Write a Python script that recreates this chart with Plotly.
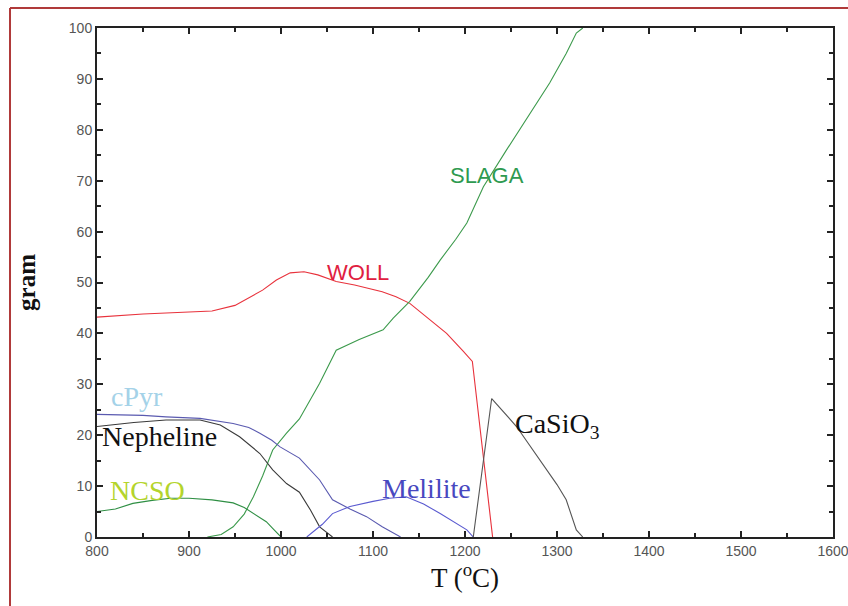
import plotly.graph_objects as go

# ---- data ----
woll_T = [800, 850, 900, 925, 950, 965, 980, 995, 1010, 1025, 1040, 1060, 1080, 1110, 1125, 1140, 1160, 1180, 1198, 1208, 1230]
woll_g = [43.2, 43.8, 44.2, 44.4, 45.5, 47.0, 48.5, 50.5, 51.9, 52.1, 51.5, 50.2, 49.5, 48.2, 47.2, 45.9, 43.0, 40.0, 36.5, 34.5, 0.0]

slaga_T = [920, 935, 948, 960, 970, 980, 991, 1006, 1020, 1042, 1060, 1085, 1111, 1122, 1140, 1160, 1173, 1190, 1202, 1220, 1245, 1270, 1292, 1310, 1321, 1328]
slaga_g = [0.0, 0.5, 2.0, 4.5, 7.9, 12.0, 17.1, 20.4, 23.2, 30.2, 36.7, 38.8, 40.7, 43.0, 46.3, 51.0, 54.4, 58.5, 61.7, 68.8, 76.0, 83.0, 89.2, 95.0, 99.0, 100.0]

cpyr_T = [800, 850, 875, 912, 948, 965, 977, 990, 999, 1020, 1042, 1056, 1075, 1093, 1110, 1130]
cpyr_g = [24.1, 23.9, 23.6, 23.3, 22.3, 21.5, 20.4, 19.0, 17.7, 15.5, 11.2, 7.3, 5.5, 4.0, 2.0, 0.0]

neph_T = [800, 840, 875, 912, 934, 955, 977, 991, 1006, 1020, 1032, 1042, 1056]
neph_g = [21.7, 22.5, 23.0, 23.0, 22.0, 19.7, 16.4, 13.2, 10.5, 8.8, 5.3, 2.0, 0.0]

ncso_T = [800, 820, 839, 860, 880, 900, 925, 948, 960, 970, 984, 992, 1000]
ncso_g = [5.0, 5.5, 6.6, 7.2, 7.6, 7.6, 7.3, 6.7, 5.8, 4.7, 3.0, 1.5, 0.0]

mel_T = [1028, 1045, 1056, 1075, 1100, 1118, 1136, 1155, 1173, 1190, 1202, 1209]
mel_g = [0.0, 2.5, 4.6, 6.0, 7.0, 7.6, 7.9, 6.5, 4.6, 2.8, 1.4, 0.0]

casio_T = [1209, 1229, 1256, 1281, 1300, 1310, 1321, 1328]
casio_g = [0.0, 27.2, 21.7, 15.1, 10.3, 7.3, 1.4, 0.0]

x_ticks = [800, 900, 1000, 1100, 1200, 1300, 1400, 1500, 1600]
y_ticks = [0, 10, 20, 30, 40, 50, 60, 70, 80, 90, 100]

series = [
    ("WOLL", woll_T, woll_g, "#e8323c"),
    ("SLAGA", slaga_T, slaga_g, "#3c9a4c"),
    ("cPyr", cpyr_T, cpyr_g, "#5a5ab0"),
    ("Nepheline", neph_T, neph_g, "#3a3a3a"),
    ("NCSO", ncso_T, ncso_g, "#2f8f44"),
    ("Melilite", mel_T, mel_g, "#5a5ad0"),
    ("CaSiO3", casio_T, casio_g, "#555555"),
]

fig = go.Figure()
for name, xs, ys, col in series:
    fig.add_trace(go.Scatter(x=xs, y=ys, mode="lines", name=name,
                             line=dict(color=col, width=1.1), showlegend=False))

SERIF = "Times New Roman, Liberation Serif, serif"
SANS = "Arial, Liberation Sans, sans-serif"
labels = [
    ("SLAGA", 1224, 71.1, "#2e9a50", SANS, 22),
    ("WOLL", 1084, 52.0, "#e02040", SANS, 22),
    ("cPyr", 844, 27.6, "#a4d2e8", SERIF, 28),
    ("Nepheline", 868, 19.7, "#111111", SERIF, 28),
    ("NCSO", 855, 9.2, "#b4d42c", SERIF, 28),
    ("Melilite", 1158, 9.6, "#4848c0", SERIF, 28),
    ("CaSiO<sub>3</sub>", 1300, 22.0, "#111111", SERIF, 28),
]
for txt, x, y, col, fam, sz in labels:
    fig.add_annotation(x=x, y=y, text=txt, showarrow=False,
                       font=dict(color=col, family=fam, size=sz),
                       xanchor="center", yanchor="middle")

axis_common = dict(showgrid=False, zeroline=False, showline=True, linecolor="#222222",
                   linewidth=2, mirror="ticks", ticks="inside", tickcolor="#222222",
                   tickwidth=2, ticklen=6, automargin=False, ticklabeloverflow="allow",
                   tickfont=dict(family=SANS, size=14, color="#555555"))

fig.update_xaxes(range=[800, 1600], tickvals=x_ticks,
                 minor=dict(ticks="inside", ticklen=4, dtick=50, tickcolor="#222222", tickwidth=2),
                 title=dict(text="T (<sup>o</sup>C)", standoff=6,
                            font=dict(family=SERIF, size=27, color="#111111")),
                 **axis_common)
fig.update_yaxes(range=[0, 100], tickvals=y_ticks,
                 minor=dict(ticks="inside", ticklen=4, dtick=5, tickcolor="#222222", tickwidth=2),
                 title=dict(text="<b>gram</b>", standoff=26,
                            font=dict(family=SERIF, size=25, color="#111111")),
                 **axis_common)

# outer frame (top and left edges)
fig.add_shape(type="line", xref="paper", yref="paper", x0=-0.1182, x1=1.1, y0=1.0393, y1=1.0393,
              line=dict(color="#b03a3a", width=2))
fig.add_shape(type="line", xref="paper", yref="paper", x0=-0.1182, x1=-0.1182, y0=1.0393, y1=-0.16,
              line=dict(color="#b03a3a", width=2))

fig.update_layout(width=848, height=606, margin=dict(l=97, r=15, t=28, b=69),
                  paper_bgcolor="white", plot_bgcolor="white")

fig.write_html("out.html")
